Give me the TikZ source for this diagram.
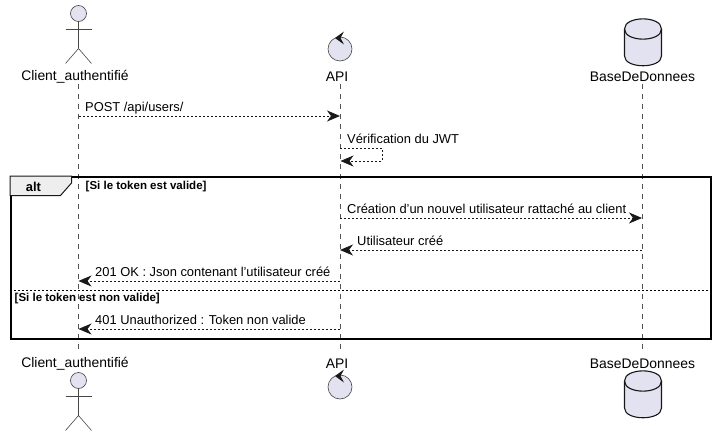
\documentclass[tikz,border=0pt]{standalone}
\usepackage{fontspec}
\setmainfont{Liberation Sans}
\usepackage{tikz}
\usetikzlibrary{arrows.meta,calc,positioning}
\definecolor{partfill}{HTML}{E2E2F0}
\definecolor{partline}{HTML}{181818}
\definecolor{tabfill}{HTML}{EEEEEE}
\tikzset{
  partlabel/.style={
      font=\fontsize{13.9}{16}\selectfont,
      text=black,
      inner sep=0pt,
  },
  msglabel/.style={
      font=\fontsize{12.9}{15}\selectfont,
      text=black,
      inner sep=0pt,
      anchor=base west,
  },
  guardlabel/.style={
      font=\bfseries\fontsize{11.5}{13}\selectfont,
      text=black,
      inner sep=0pt,
      anchor=base west,
  },
  lifeline/.style={
      draw=partline!75,
      line width=0.5pt,
      dash pattern=on 5pt off 5pt,
  },
  message/.style={
      draw=partline,
      line width=0.8pt,
      dash pattern=on 2pt off 2pt,
      -{Stealth[length=13pt,width=11pt,inset=4pt,fill=partline]},
  },
  actorline/.style={
      draw=partline!80,
      line width=0.6pt,
  },
  dbline/.style={
      draw=partline,
      line width=1.1pt,
      fill=partfill,
  },
}
\newcommand{\actorshape}[2]{
  % #1 = x, #2 = y of the head centre
  \draw[actorline,fill=partfill] (#1,#2) circle (8);
  \draw[actorline] (#1,#2+8) -- (#1,#2+35);
  \draw[actorline] (#1-13,#2+16) -- (#1+13,#2+16);
  \draw[actorline] (#1-13,#2+50) -- (#1,#2+35) -- (#1+13,#2+50);
}
\newcommand{\controlshape}[2]{
  \draw[actorline,fill=partfill] (#1,#2) circle (12);
  \fill[partline] (#1+4,#2-17.5) -- (#1-5,#2-11) -- (#1+4,#2-4.5) -- (#1+0.5,#2-11) -- cycle;
}
\newcommand{\dbshape}[2]{
  % #2 = top of the drum
  \draw[dbline] (#1-18.5,#2+10) .. controls (#1-18.5,#2-3.5) and (#1+18.5,#2-3.5) .. (#1+18.5,#2+10)
    -- (#1+18.5,#2+37) .. controls (#1+18.5,#2+50) and (#1-18.5,#2+50) .. (#1-18.5,#2+37) -- cycle;
  \draw[dbline,fill=none] (#1-18.5,#2+10) .. controls (#1-18.5,#2+23.5) and (#1+18.5,#2+23.5) .. (#1+18.5,#2+10);
}

\begin{document}
\begin{tikzpicture}[x=1pt,y=-1pt]
  \useasboundingbox (0,0) rectangle (715,436);

  % participants
  \actorshape{78.5}{13.5}
  \controlshape{340}{49}
  \dbshape{643}{19}
  \node[partlabel] (clientTop) at (75,76.5) {Client\_authentifié};
  \node[partlabel] (apiTop) at (337,76.5) {API};
  \node[partlabel] (dbTop) at (642.5,76.5) {BaseDeDonnees};
  \node[partlabel] (clientBot) at (75,363.5) {Client\_authentifié};
  \node[partlabel] (apiBot) at (337,363.5) {API};
  \node[partlabel] (dbBot) at (642.5,363.5) {BaseDeDonnees};
  \actorshape{78.5}{380.5}
  \controlshape{340}{387}
  \dbshape{643}{371}

  % lifelines
  \coordinate (clientA) at (78.5,84);
  \coordinate (clientB) at (78.5,351);
  \coordinate (apiA) at (340,84);
  \coordinate (apiB) at (340,351);
  \coordinate (dbA) at (642,84);
  \coordinate (dbB) at (642,351);
  \draw[lifeline] (clientA) -- (clientB);
  \draw[lifeline] (apiA) -- (apiB);
  \draw[lifeline] (dbA) -- (dbB);

  % messages
  \foreach \name/\ypos in {m1/116,m3/218,m4/250,m5/281,m6/329}{
    \coordinate (c\name) at (78.5,\ypos);
    \coordinate (a\name) at (340,\ypos);
    \coordinate (d\name) at (642,\ypos);
  }
  \coordinate (selfA) at (340,148);
  \coordinate (selfB) at (382,148);
  \coordinate (selfC) at (382,161);
  \coordinate (selfD) at (340.5,161);
  \draw[message] (cm1) -- (am1);
  \draw[message] (selfA) -- (selfB) -- (selfC) -- (selfD);
  \draw[message] (am3) -- (dm3);
  \draw[message] (dm4) -- (am4);
  \draw[message] (am5) -- (cm5);
  \draw[message] (am6) -- (cm6);
  \node[msglabel] (l1) at (85,111.5) {POST /api/users/};
  \node[msglabel] (l2) at (347,143.5) {Vérification du JWT};
  \node[msglabel] (l3) at (347,213.5) {Création d'un nouvel utilisateur rattaché au client};
  \node[msglabel] (l4) at (357,245.5) {Utilisateur créé};
  \node[msglabel] (l5) at (95,276.5) {201 OK : Json contenant l'utilisateur créé};
  \node[msglabel] (l6) at (95,324.5) {401 Unauthorized : Token non valide};

  % alt frame
  \node[inner sep=0pt,minimum width=700pt,minimum height=162pt,anchor=north west,
    draw=black,line width=1.5pt] (frame) at (10,176) {};
  \filldraw[draw=partline,line width=1pt,fill=tabfill] (frame.north west) -- ++(61.5,0) -- ++(0,7)
    -- ++(-11,12.5) -- ($(frame.north west)+(0,19.5)$) -- cycle;
  \node[font=\bfseries\fontsize{12.9}{15}\selectfont,inner sep=0pt,anchor=base] (altlabel) at (33.5,191) {alt};
  \node[guardlabel] (g1) at (85.5,189) {[Si le token est valide]};
  \coordinate (sepA) at (frame.west |- 0,290);
  \coordinate (sepB) at (frame.east |- 0,290);
  \draw[draw=black,line width=0.7pt,dash pattern=on 2pt off 2pt] (sepA) -- (sepB);
  \node[guardlabel] (g2) at (14.5,301) {[Si le token est non valide]};
\end{tikzpicture}
\end{document}
